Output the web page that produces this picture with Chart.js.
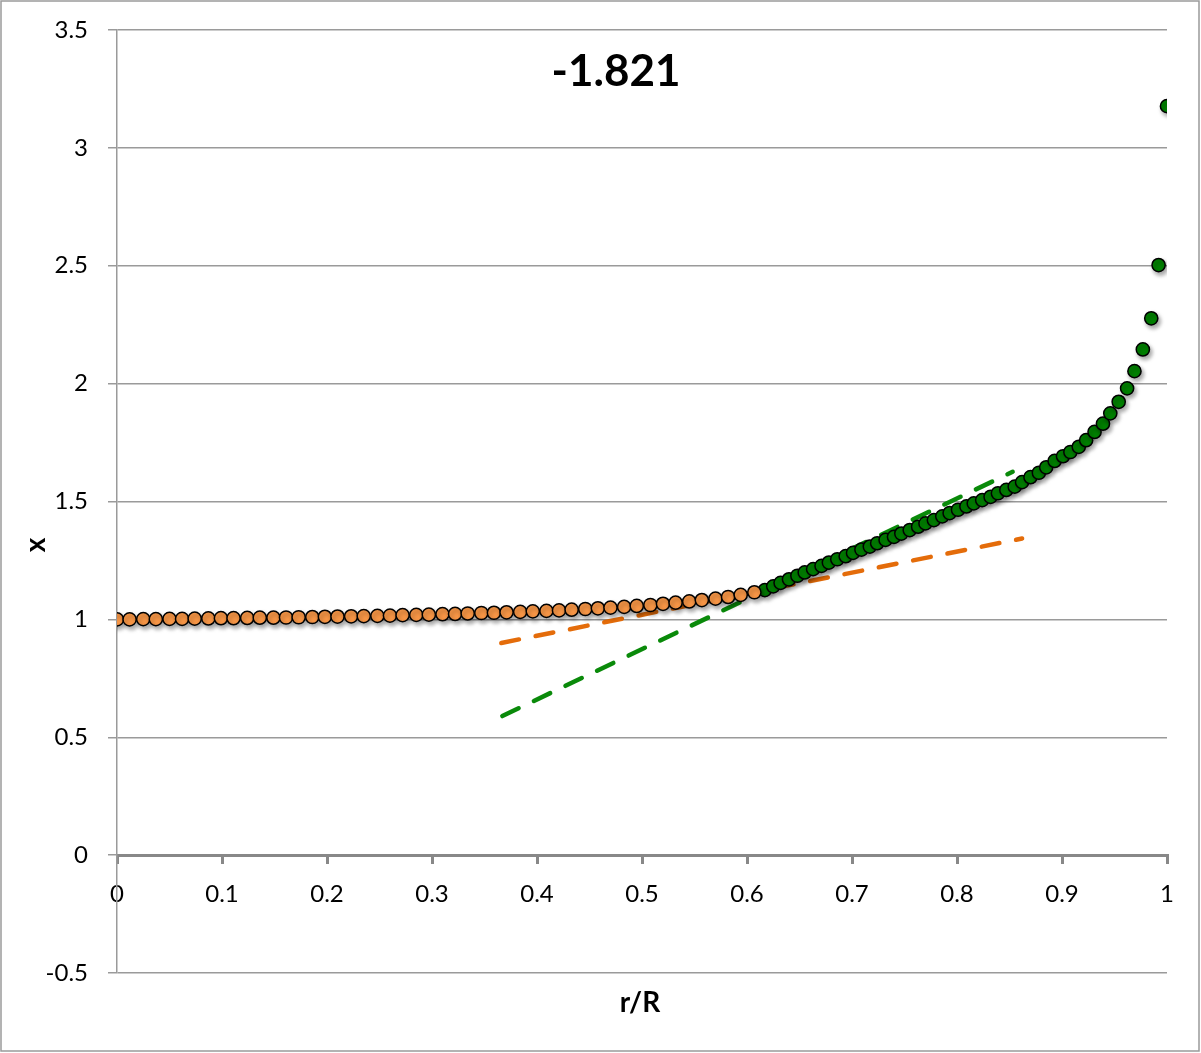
<!DOCTYPE html>
<html>
<head>
<meta charset="utf-8">
<script src="https://cdn.jsdelivr.net/npm/chart.js@4.4.1/dist/chart.umd.min.js"></script>
<style>
  html, body { margin: 0; padding: 0; background: #fff; }
  #wrap { width: 1201px; height: 1053px; position: relative; }
</style>
</head>
<body>
<div id="wrap"><canvas id="c" width="1201" height="1053"></canvas></div>
<script>
const chartTitle = "-1.821";
const xAxisTitle = "r/R";
const yAxisTitle = "x";

const xTickLabels = ["0", "0.1", "0.2", "0.3", "0.4", "0.5", "0.6", "0.7", "0.8", "0.9", "1"];
const yTickLabels = ["-0.5", "0", "0.5", "1", "1.5", "2", "2.5", "3", "3.5"];

const innerX = [0, 0.012, 0.025, 0.037, 0.050, 0.062, 0.074, 0.087, 0.099, 0.111,
  0.124, 0.136, 0.149, 0.161, 0.173, 0.186, 0.198, 0.210, 0.223, 0.235,
  0.248, 0.260, 0.272, 0.285, 0.297, 0.310, 0.322, 0.334, 0.347, 0.359,
  0.371, 0.384, 0.396, 0.409, 0.421, 0.433, 0.446, 0.458, 0.470, 0.483,
  0.495, 0.508, 0.520, 0.532, 0.545, 0.557, 0.570, 0.582, 0.594, 0.607];
const innerY = [1.000, 1.000, 1.001, 1.001, 1.002, 1.002, 1.003, 1.004, 1.005, 1.005,
  1.006, 1.007, 1.007, 1.008, 1.009, 1.010, 1.011, 1.012, 1.013, 1.014,
  1.015, 1.016, 1.018, 1.019, 1.020, 1.022, 1.023, 1.025, 1.027, 1.028,
  1.030, 1.032, 1.034, 1.036, 1.038, 1.041, 1.044, 1.047, 1.050, 1.053,
  1.057, 1.061, 1.066, 1.071, 1.076, 1.082, 1.088, 1.095, 1.104, 1.115];

const outerX = [0.617, 0.625, 0.632, 0.640, 0.648, 0.655, 0.663, 0.671, 0.678, 0.686,
  0.694, 0.701, 0.709, 0.717, 0.724, 0.732, 0.740, 0.747, 0.755, 0.763,
  0.770, 0.778, 0.786, 0.793, 0.801, 0.809, 0.816, 0.824, 0.832, 0.839,
  0.847, 0.855, 0.862, 0.870, 0.878, 0.885, 0.893, 0.901, 0.908, 0.916,
  0.923, 0.931, 0.939, 0.946, 0.954, 0.962, 0.969, 0.977, 0.985, 0.992, 1.000];
const outerY = [1.124, 1.140, 1.155, 1.170, 1.185, 1.199, 1.213, 1.227, 1.241, 1.255,
  1.268, 1.282, 1.296, 1.309, 1.323, 1.337, 1.350, 1.364, 1.379, 1.393,
  1.407, 1.421, 1.437, 1.451, 1.465, 1.479, 1.492, 1.506, 1.520, 1.535,
  1.549, 1.563, 1.582, 1.603, 1.622, 1.645, 1.672, 1.692, 1.710, 1.732,
  1.760, 1.795, 1.830, 1.874, 1.923, 1.980, 2.053, 2.145, 2.277, 2.503, 3.177];

const innerFitX = [0.366, 0.862];
const innerFitY = [0.900, 1.343];
const outerFitX = [0.367, 0.853];
const outerFitY = [0.590, 1.626];

function pts(xs, ys) { return xs.map((x, i) => ({ x: x, y: ys[i] })); }

const FONT = "Lato, 'Open Sans', sans-serif";

const decor = {
  id: 'decor',
  beforeDatasetDraw(chart, args) {
    const ds = chart.data.datasets[args.index];
    if (ds._shadow) {
      const ctx = chart.ctx;
      ctx.save();
      ctx.shadowColor = 'rgba(0,0,0,0.35)';
      ctx.shadowBlur = 4;
      ctx.shadowOffsetX = 2;
      ctx.shadowOffsetY = 3;
    }
  },
  afterDatasetDraw(chart, args) {
    const ds = chart.data.datasets[args.index];
    if (ds._shadow) chart.ctx.restore();
  },
  afterDraw(chart) {
    const ctx = chart.ctx;
    ctx.save();
    ctx.strokeStyle = '#9a9a9a';
    ctx.lineWidth = 1.5;
    ctx.strokeRect(1, 1, 1198, 1050);
    ctx.fillStyle = '#000';
    ctx.textAlign = 'center';
    ctx.textBaseline = 'middle';
    ctx.font = "bold 44px " + FONT;
    ctx.fillText(chartTitle, 616, 72);
    ctx.font = "bold 28px " + FONT;
    ctx.fillText(xAxisTitle, 640, 1003);
    ctx.translate(36, 545);
    ctx.rotate(-Math.PI / 2);
    ctx.fillText(yAxisTitle, 0, 0);
    ctx.restore();
  }
};

new Chart(document.getElementById('c'), {
  type: 'scatter',
  data: {
    datasets: [
      {
        data: pts(innerX, innerY),
        pointBackgroundColor: '#F79646',
        pointBorderColor: '#000',
        pointBorderWidth: 1.5,
        pointRadius: 6.6,
        showLine: false,
        order: 1,
        _shadow: true
      },
      {
        data: pts(outerX, outerY),
        pointBackgroundColor: '#008000',
        pointBorderColor: '#000',
        pointBorderWidth: 1.5,
        pointRadius: 6.6,
        showLine: false,
        order: 1,
        _shadow: true
      },
      {
        data: pts(innerFitX, innerFitY),
        showLine: true,
        borderColor: '#E46C0A',
        borderWidth: 4.5,
        borderDash: [18, 17],
        borderCapStyle: 'round',
        pointRadius: 0,
        order: 2
      },
      {
        data: pts(outerFitX, outerFitY),
        showLine: true,
        borderColor: '#0A8A0A',
        borderWidth: 4.5,
        borderDash: [18, 17],
        borderCapStyle: 'round',
        pointRadius: 0,
        order: 2
      }
    ]
  },
  options: {
    responsive: false,
    animation: false,
    layout: { padding: { left: 0, top: 30, right: 34, bottom: 80 } },
    plugins: { legend: { display: false }, tooltip: { enabled: false }, title: { display: false } },
    scales: {
      x: {
        type: 'linear',
        position: { y: 0 },
        min: 0, max: 1,
        ticks: {
          stepSize: 0.1,
          color: '#000',
          font: { family: FONT, size: 24 },
          padding: 18,
          maxRotation: 0,
          autoSkip: false,
          callback: (v, i) => xTickLabels[i]
        },
        grid: { drawOnChartArea: false, drawTicks: true, tickLength: 7, color: '#888', lineWidth: 3 },
        border: { display: true, color: '#888', width: 3 }
      },
      y: {
        type: 'linear',
        min: -0.5, max: 3.5,
        ticks: {
          stepSize: 0.5,
          color: '#000',
          font: { family: FONT, size: 24 },
          padding: 20,
          autoSkip: false,
          callback: (v, i) => yTickLabels[i]
        },
        grid: { color: '#9a9a9a', lineWidth: 1.5, tickLength: 9, drawTicks: true },
        border: { display: true, color: '#9a9a9a', width: 1.5 },
        afterFit: (s) => { s.width = 117; s.paddingTop = 10; s.paddingBottom = 10; }
      }
    }
  },
  plugins: [decor]
});
</script>
</body>
</html>
